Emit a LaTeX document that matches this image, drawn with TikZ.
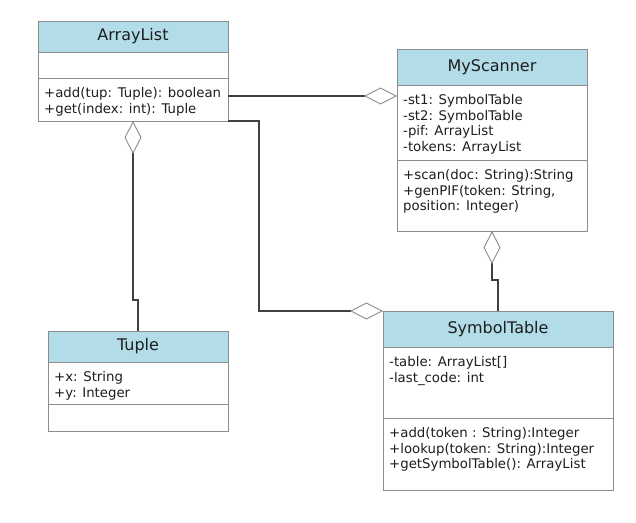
\documentclass[tikz,border=0pt]{standalone}
\usepackage{fontspec}
\setmainfont{DejaVu Sans}
\usetikzlibrary{positioning,arrows.meta}
\definecolor{headblue}{RGB}{178,220,231}
\definecolor{boxgray}{RGB}{140,140,140}
\definecolor{linegray}{RGB}{64,64,64}
\definecolor{textdark}{RGB}{30,30,30}
\tikzset{
  classhead/.style={draw=boxgray,fill=headblue,minimum height=#1,inner sep=0pt,outer sep=0pt,
    text=textdark,font=\fontsize{16}{19}\selectfont},
  part/.style={draw=boxgray,fill=white,minimum height=#1,inner sep=0pt,outer sep=0pt},
  members/.style={anchor=north west,align=left,inner xsep=6pt,inner ysep=9pt,
    text=textdark,font=\fontsize{13.3}{15.8}\selectfont},
  agg/.style={draw=linegray,line width=1.4pt,
    -{Diamond[open,length=33pt,width=17pt,color=boxgray,line width=0.9pt]}}
}
\begin{document}
\begin{tikzpicture}[x=1pt,y=-1pt]
\useasboundingbox (0,0) rectangle (636,522);

%classe ArrayList
\node[classhead=31,minimum width=190,anchor=north west] (arrHead) at (38,21) {ArrayList};
\node[part=26,minimum width=190,below=0pt of arrHead] (arrAttr) {};
\node[part=43,minimum width=190,below=0pt of arrAttr] (arrOps) {};
\node[members] (arrOpsTxt) at (arrOps.north west) {+add(tup: Tuple): boolean\\+get(index: int): Tuple};

%classe MyScanner
\node[classhead=36,minimum width=190,anchor=north west] (scnHead) at (397,49) {MyScanner};
\node[part=75,minimum width=190,below=0pt of scnHead] (scnAttr) {};
\node[part=71,minimum width=190,below=0pt of scnAttr] (scnOps) {};
\node[members] (scnAttrTxt) at (scnAttr.north west) {-st1: SymbolTable\\-st2: SymbolTable\\-pif: ArrayList\\-tokens: ArrayList};
\node[members] (scnOpsTxt) at (scnOps.north west) {+scan(doc: String):String\\+genPIF(token: String,\\position: Integer)};

%classe Tuple
\node[classhead=31,minimum width=180,anchor=north west] (tupHead) at (48,331) {Tuple};
\node[part=42,minimum width=180,below=0pt of tupHead] (tupAttr) {};
\node[part=27,minimum width=180,below=0pt of tupAttr] (tupOps) {};
\node[members] (tupAttrTxt) at (tupAttr.north west) {+x: String\\+y: Integer};

%classe SymbolTable
\node[classhead=36,minimum width=230,anchor=north west] (symHead) at (383,311) {SymbolTable};
\node[part=71,minimum width=230,below=0pt of symHead] (symAttr) {};
\node[part=72,minimum width=230,below=0pt of symAttr] (symOps) {};
\node[members] (symAttrTxt) at (symAttr.north west) {-table: ArrayList[]\\-last\_code: int};
\node[members] (symOpsTxt) at (symOps.north west) {+add(token : String):Integer\\+lookup(token: String):Integer\\+getSymbolTable(): ArrayList};

%aggregazioni
\draw[agg] ([yshift=3.5pt]arrOps.east) -- ([yshift=3.5pt]arrOps.east -| scnAttr.west);
\draw[agg] (tupHead.north) -- ++(0,-31) -| (arrOps.south);
\draw[agg] (arrOps.south east) -- ++(31,0) |- (symHead.north west);
\draw[agg] (symHead.north) -- ++(0,-31) -| (scnOps.south);

\end{tikzpicture}
\end{document}
